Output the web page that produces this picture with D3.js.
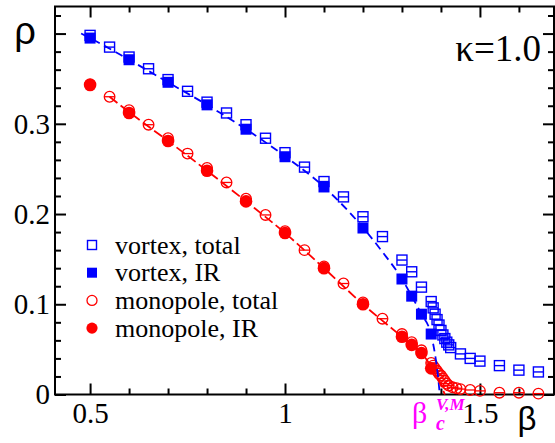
<!DOCTYPE html>
<html>
<head>
<meta charset="utf-8">
<script src="https://cdn.jsdelivr.net/npm/d3@7"></script>
<style>
  html, body { margin: 0; padding: 0; background: #fff; }
  svg { display: block; }
</style>
</head>
<body>
<svg id="chart" width="555" height="443"></svg>
<script>
// Vortex density, total (open squares)
const vortexTotalBeta = [0.5, 0.55, 0.6, 0.65, 0.7, 0.75, 0.8, 0.85, 0.9, 0.95, 1.0, 1.05, 1.1, 1.15, 1.2, 1.25,
  1.3, 1.325, 1.35, 1.375, 1.38, 1.385, 1.39, 1.395, 1.4, 1.405, 1.41, 1.415, 1.42, 1.425, 1.45, 1.475, 1.5, 1.55, 1.6, 1.65];
const vortexTotalRho = [0.398, 0.385, 0.374, 0.361, 0.349, 0.336, 0.324, 0.312, 0.299, 0.284, 0.268, 0.252, 0.236, 0.219, 0.197, 0.175,
  0.149, 0.136, 0.119, 0.103, 0.096, 0.089, 0.083, 0.077, 0.071, 0.066, 0.062, 0.058, 0.055, 0.052, 0.045, 0.040, 0.037, 0.032, 0.027, 0.025];

// Vortex density, IR part (filled squares)
const vortexIRBeta = [0.5, 0.6, 0.7, 0.8, 0.9, 1.0, 1.1, 1.2, 1.3, 1.325, 1.35, 1.375];
const vortexIRRho = [0.395, 0.371, 0.346, 0.321, 0.294, 0.2635, 0.230, 0.1845, 0.128, 0.109, 0.089, 0.067];

// Monopole density, total (open circles)
const monoTotalBeta = [0.5, 0.55, 0.6, 0.65, 0.7, 0.75, 0.8, 0.85, 0.9, 0.95, 1.0, 1.05, 1.1, 1.15, 1.2, 1.25,
  1.3, 1.325, 1.35, 1.375, 1.38, 1.385, 1.39, 1.395, 1.4, 1.405, 1.41, 1.415, 1.42, 1.43, 1.44, 1.45, 1.475, 1.5, 1.55, 1.6, 1.65];
const monoTotalRho = [0.344, 0.330, 0.315, 0.299, 0.284, 0.267, 0.251, 0.235, 0.217, 0.199, 0.181, 0.160, 0.142, 0.123, 0.102, 0.084,
  0.067, 0.058, 0.049, 0.035, 0.032, 0.029, 0.026, 0.023, 0.021, 0.018, 0.015, 0.012, 0.010, 0.008, 0.007, 0.006, 0.005, 0.004, 0.002, 0.002, 0.001];

// Monopole density, IR part (filled circles)
const monoIRBeta = [0.5, 0.6, 0.7, 0.8, 0.9, 1.0, 1.1, 1.2, 1.3, 1.325, 1.35, 1.375];
const monoIRRho = [0.343, 0.312, 0.281, 0.248, 0.214, 0.179, 0.140, 0.100, 0.064, 0.055, 0.046, 0.029];

// Fit curves through the IR densities
const vortexFitBeta = [0.477, 0.5, 0.6, 0.7, 0.8, 0.9, 1.0, 1.1, 1.2, 1.25, 1.3, 1.325, 1.35, 1.375, 1.385, 1.392, 1.397];
const vortexFitRho = [0.400, 0.395, 0.371, 0.346, 0.321, 0.294, 0.264, 0.230, 0.185, 0.158, 0.128, 0.109, 0.089, 0.066, 0.044, 0.022, 0.0];
const monoFitBeta = [0.55, 0.6, 0.7, 0.8, 0.9, 1.0, 1.1, 1.2, 1.3, 1.35, 1.375, 1.39, 1.4, 1.41];
const monoFitRho = [0.330, 0.313, 0.281, 0.248, 0.214, 0.179, 0.140, 0.100, 0.064, 0.046, 0.031, 0.019, 0.010, 0.0];

// Axis ticks
const xMajorTicks = [0.5, 1.0, 1.5];
const xMajorLabels = ["0.5", "1", "1.5"];
const xMinorTicks = [0.6, 0.7, 0.8, 0.9, 1.1, 1.2, 1.3, 1.4, 1.6];
const yMajorTicks = [0, 0.1, 0.2, 0.3, 0.4];
const yMajorLabels = ["0", "0.1", "0.2", "0.3", ""];
const yMinorTicks = [0.02, 0.04, 0.06, 0.08, 0.12, 0.14, 0.16, 0.18, 0.22, 0.24, 0.26, 0.28, 0.32, 0.34, 0.36, 0.38, 0.42];

const legendLabels = ["vortex, total", "vortex, IR", "monopole, total", "monopole, IR"];

const BLUE = "#0000ff", RED = "#ff0000", MAGENTA = "#ff00ff";
const SERIF = "'Liberation Serif', 'Times New Roman', serif";
const SANS = "'Liberation Sans', Arial, sans-serif";

const svg = d3.select("#chart");
const L = 55, R = 554, T = 6.5, B = 394.5;
const x = d3.scaleLinear().domain([0.41, 1.69]).range([L, R]);
const y = d3.scaleLinear().domain([0, 0.43]).range([B, T]);

const zip = (a, b) => a.map((v, i) => [v, b[i]]);

// ---- axes (ticks point inward on all four sides) ----
function styleAxis(g) {
  g.attr("font-family", SERIF).attr("font-size", 29);
  g.select(".domain").remove();
  g.selectAll(".tick line").attr("stroke", "#000").attr("stroke-width", 2);
  g.selectAll(".tick text").attr("fill", "#000");
}
const MAJ = 11, MIN = 6;

svg.append("g").attr("transform", `translate(0,${B})`)
  .call(d3.axisBottom(x).tickValues(xMajorTicks).tickSize(-MAJ).tickPadding(8)
    .tickFormat((d, i) => xMajorLabels[i])).call(styleAxis);
svg.append("g").attr("transform", `translate(0,${B})`)
  .call(d3.axisBottom(x).tickValues(xMinorTicks).tickSize(-MIN).tickFormat("")).call(styleAxis);
svg.append("g").attr("transform", `translate(0,${T})`)
  .call(d3.axisTop(x).tickValues(xMajorTicks).tickSize(-MAJ).tickFormat("")).call(styleAxis);
svg.append("g").attr("transform", `translate(0,${T})`)
  .call(d3.axisTop(x).tickValues(xMinorTicks).tickSize(-MIN).tickFormat("")).call(styleAxis);

svg.append("g").attr("transform", `translate(${L},0)`)
  .call(d3.axisLeft(y).tickValues(yMajorTicks).tickSize(-MAJ).tickPadding(5)
    .tickFormat((d, i) => yMajorLabels[i])).call(styleAxis);
svg.append("g").attr("transform", `translate(${L},0)`)
  .call(d3.axisLeft(y).tickValues(yMinorTicks).tickSize(-MIN).tickFormat("")).call(styleAxis);
svg.append("g").attr("transform", `translate(${R},0)`)
  .call(d3.axisRight(y).tickValues(yMajorTicks).tickSize(-MAJ).tickFormat("")).call(styleAxis);
svg.append("g").attr("transform", `translate(${R},0)`)
  .call(d3.axisRight(y).tickValues(yMinorTicks).tickSize(-MIN).tickFormat("")).call(styleAxis);

// frame
svg.append("rect").attr("x", L).attr("y", T).attr("width", R - L).attr("height", B - T)
  .attr("fill", "none").attr("stroke", "#000").attr("stroke-width", 2);

// ---- markers ----
const plot = svg.append("g");

function openSquares(data, half) {
  const g = plot.append("g").selectAll("g").data(data).join("g")
    .attr("transform", d => `translate(${x(d[0])},${y(d[1])})`);
  g.append("rect").attr("x", -half).attr("y", -half).attr("width", 2 * half).attr("height", 2 * half)
    .attr("fill", "none").attr("stroke", BLUE).attr("stroke-width", 1.4);
  g.append("line").attr("x1", -half).attr("x2", half).attr("stroke", BLUE).attr("stroke-width", 1.4);
}
function filledSquares(data, half) {
  plot.append("g").selectAll("rect").data(data).join("rect")
    .attr("x", d => x(d[0]) - half).attr("y", d => y(d[1]) - half)
    .attr("width", 2 * half).attr("height", 2 * half).attr("fill", BLUE);
}
function openCircles(data, r) {
  const g = plot.append("g").selectAll("g").data(data).join("g")
    .attr("transform", d => `translate(${x(d[0])},${y(d[1])})`);
  g.append("circle").attr("r", r).attr("fill", "none").attr("stroke", RED).attr("stroke-width", 1.3);
  g.append("line").attr("x1", -r).attr("x2", r).attr("stroke", RED).attr("stroke-width", 1.3);
}
function filledCircles(data, r) {
  plot.append("g").selectAll("circle").data(data).join("circle")
    .attr("cx", d => x(d[0])).attr("cy", d => y(d[1])).attr("r", r).attr("fill", RED);
}

openSquares(zip(vortexTotalBeta, vortexTotalRho), 5);
filledSquares(zip(vortexIRBeta, vortexIRRho), 5.5);
openCircles(zip(monoTotalBeta, monoTotalRho), 5.3);
filledCircles(zip(monoIRBeta, monoIRRho), 6.3);

// ---- fit curves ----
const line = d3.line().x(d => x(d[0])).y(d => y(d[1])).curve(d3.curveMonotoneX);
plot.append("path").datum(zip(vortexFitBeta, vortexFitRho)).attr("d", line)
  .attr("fill", "none").attr("stroke", BLUE).attr("stroke-width", 1.8).attr("stroke-dasharray", "8,5");
plot.append("path").datum(zip(monoFitBeta, monoFitRho)).attr("d", line)
  .attr("fill", "none").attr("stroke", RED).attr("stroke-width", 1.8).attr("stroke-dasharray", "10,4");

// ---- legend ----
const legX = 92, legY0 = 245, legDY = 27.7;
const leg = svg.append("g");
legendLabels.forEach((lab, i) => {
  const cy = legY0 + i * legDY;
  if (i === 0) leg.append("rect").attr("x", legX - 4.5).attr("y", cy - 4.5).attr("width", 9).attr("height", 9)
    .attr("fill", "none").attr("stroke", BLUE).attr("stroke-width", 1.4);
  if (i === 1) leg.append("rect").attr("x", legX - 5).attr("y", cy - 5).attr("width", 10).attr("height", 10).attr("fill", BLUE);
  if (i === 2) leg.append("circle").attr("cx", legX).attr("cy", cy).attr("r", 5).attr("fill", "none")
    .attr("stroke", RED).attr("stroke-width", 1.3);
  if (i === 3) leg.append("circle").attr("cx", legX).attr("cy", cy).attr("r", 5.6).attr("fill", RED);
  leg.append("text").attr("font-family", SERIF).attr("x", 115).attr("y", cy + 8.5).attr("font-size", 26)
    .attr("fill", "#000").text(lab);
});

// ---- axis titles and annotations ----
svg.append("text").attr("font-family", SANS).attr("x", 25).attr("y", 44).attr("text-anchor", "middle")
  .attr("font-size", 38).attr("fill", "#000").text("ρ");
svg.append("text").attr("font-family", SANS).attr("x", 527).attr("y", 430).attr("text-anchor", "middle")
  .attr("font-size", 33).attr("fill", "#000").text("β");
svg.append("text").attr("font-family", SERIF).attr("x", 541).attr("y", 61).attr("text-anchor", "end")
  .attr("font-size", 37).attr("fill", "#000").text("κ=1.0");

const bc = svg.append("g").attr("font-family", SERIF).attr("fill", MAGENTA);
bc.append("text").attr("x", 412).attr("y", 423).attr("font-size", 30).text("β");
bc.append("text").attr("x", 436).attr("y", 410).attr("font-size", 17)
  .attr("font-weight", "bold").attr("font-style", "italic").text("V,M");
bc.append("text").attr("x", 436).attr("y", 430).attr("font-size", 20)
  .attr("font-weight", "bold").attr("font-style", "italic").text("c");
</script>
</body>
</html>
